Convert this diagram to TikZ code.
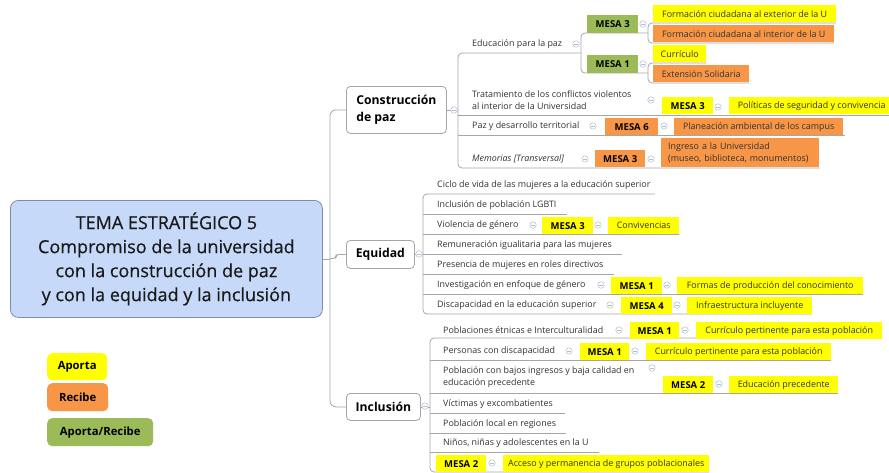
\documentclass[tikz,border=0pt]{standalone}
\usepackage{fontspec}
\setmainfont{Open Sans}
\newfontfamily\ctrfont[FakeBold=0.5]{Open Sans}
\definecolor{apY}{HTML}{FFFF00}
\definecolor{reO}{HTML}{F79646}
\definecolor{arG}{HTML}{9BBB59}
\definecolor{ctrF}{HTML}{C6D9F8}
\definecolor{ctrD}{HTML}{7A8CB0}
\definecolor{brc}{HTML}{A6A6A6}
\definecolor{colc}{HTML}{B0BED0}
\definecolor{txtc}{HTML}{333333}
\tikzset{
  br/.style={draw=brc, line width=0.8pt},
  lbl/.style={anchor=west, inner sep=0, font=\fontsize{8.9}{12}\selectfont, text=txtc, align=left},
  bx/.style={anchor=north west, inner sep=0, minimum height=17, font=\fontsize{8.9}{12}\selectfont, text=txtc},
  bY/.style={bx, fill=apY},
  bO/.style={bx, fill=reO},
  mY/.style={bx, fill=apY, text=black, font=\bfseries\fontsize{9.5}{12}\selectfont},
  mO/.style={bx, fill=reO, text=black, font=\bfseries\fontsize{9.5}{12}\selectfont},
  mG/.style={bx, fill=arG, text=black, font=\bfseries\fontsize{9.5}{12}\selectfont},
  branch/.style={anchor=north west, draw=brc, fill=white, rounded corners=4, line width=0.8pt, inner sep=0, align=left, font=\bfseries\fontsize{12.2}{17}\selectfont, text=black},
  legend/.style={anchor=north west, rounded corners=5, inner sep=0, font=\bfseries\fontsize{11.3}{14}\selectfont, text=black},
  colps/.style={circle, draw=colc, fill=white, minimum size=6.5pt, inner sep=0, line width=0.5pt,
    path picture={\draw[colc, line width=0.5pt] ([xshift=-1.8pt]path picture bounding box.center) -- ([xshift=1.8pt]path picture bounding box.center);}}
}
\begin{document}
\begin{tikzpicture}[x=1pt,y=-1pt]
\useasboundingbox (0,0) rectangle (889,472);
\fill[white] (0,0) rectangle (889,472);

% central node
\node[anchor=north west, draw=ctrD, fill=ctrF, rounded corners=8, line width=0.8pt, minimum width=312, minimum height=117, inner sep=0, align=center, font=\ctrfont\fontsize{18}{24}\selectfont, text=black!90] (ctr) at (10,200)
  {TEMA ESTRATÉGICO 5\\Compromiso de la universidad\\con la construcción de paz\\y con la equidad y la inclusión};

% branches
\node[branch, minimum width=100, minimum height=47] (con) at (346,86) {Construcción\\de paz};
\node[branch, minimum width=68, minimum height=28] (equ) at (346,240) {Equidad};
\node[branch, minimum width=74, minimum height=27] (inc) at (346,393) {Inclusión};

% spine
\draw[br, rounded corners=6] (con.west) -- (con.west -| 330,0) -- (inc.west -| 330,0) -- (inc.west);
\draw[br] (ctr.east) -- (ctr.east -| 330,0);
\draw[br, rounded corners=3] (equ.west) -- (equ.west -| 336,0) -- (336,258.5) -- (330,258.5);

% ---------- Construcción de paz ----------
\draw[br] (con.east) -- (con.east -| 458,0);
\draw[br, rounded corners=4] (581,53) -- (458,53) -- (458,168) -- (820,168);
\draw[br] (458,115) -- (889,115);
\draw[br] (458,135) -- (845,135);
\draw[br, rounded corners=4] (648,33) -- (581,33) -- (581,73) -- (648,73);
\draw[br, rounded corners=4] (836,23) -- (648,23) -- (648,43) -- (834,43);
\draw[br, rounded corners=4] (706,63) -- (648,63) -- (648,83) -- (749,83);

\node[lbl] (edu) at (472,44) {Educación para la paz};
\node[lbl] (tra) at (472,100) {Tratamiento de los conflictos violentos\\al interior de la Universidad};
\node[lbl] (pdt) at (472,126) {Paz y desarrollo territorial};
\node[lbl, font=\itshape\fontsize{8.9}{12}\selectfont] (mem) at (472,159) {Memorias [Transversal]};

\node[mG, minimum width=51, minimum height=18] (m3a) at (587,15) {MESA 3};
\node[mG, minimum width=51, minimum height=18] (m1a) at (587,55) {MESA 1};
\node[bY, minimum width=183] (fext) at (653,5) {Formación ciudadana al exterior de la U};
\node[bO, minimum width=181] (fint) at (653,25) {Formación ciudadana al interior de la U};
\node[bY, minimum width=53] (curr) at (653,45) {Currículo};
\node[bO, minimum width=96] (exts) at (653,65) {Extensión Solidaria};
\node[mY, minimum width=51] (m3b) at (662,97) {MESA 3};
\node[bY, minimum width=165] (pol) at (729,97) {Políticas de seguridad y convivencia};
\node[mO, minimum width=53] (m6) at (605,118) {MESA 6};
\node[bO, minimum width=169] (plan) at (674,118) {Planeación ambiental de los campus};
\node[mO, minimum width=50] (m3c) at (595,150) {MESA 3};
\node[bO, minimum height=29, text width=152, inner xsep=3, align=left, font=\fontsize{8.9}{12}\selectfont] (ingr) at (661,138) {\hspace*{4pt}Ingreso a la Universidad\\\hspace*{4pt}(museo, biblioteca, monumentos)};

% ---------- Equidad ----------
\draw[br] (equ.east) -- (equ.east -| 423,0);
\draw[br, rounded corners=4] (655,194) -- (423,194) -- (423,314) -- (812,314);
\draw[br] (423,214) -- (567,214);
\draw[br] (423,234) -- (679,234);
\draw[br] (423,254) -- (622,254);
\draw[br] (423,274) -- (614,274);
\draw[br] (423,294) -- (863,294);

\node[lbl] (e1) at (437,185) {Ciclo de vida de las mujeres a la educación superior};
\node[lbl] (e2) at (437,205) {Inclusión de población LGBTI};
\node[lbl] (e3) at (437,225) {Violencia de género};
\node[lbl] (e4) at (437,245) {Remuneración igualitaria para las mujeres};
\node[lbl] (e5) at (437,265) {Presencia de mujeres en roles directivos};
\node[lbl] (e6) at (437,285) {Investigación en enfoque de género};
\node[lbl] (e7) at (437,305) {Discapacidad en la educación superior};

\node[mY, minimum width=51] (m3d) at (542,217) {MESA 3};
\node[bY, minimum width=71] (conv) at (608,217) {Convivencias};
\node[mY, minimum width=51] (m1b) at (611,277) {MESA 1};
\node[bY, minimum width=186] (form) at (677,277) {Formas de producción del conocimiento};
\node[mY, minimum width=51] (m4) at (621,297) {MESA 4};
\node[bY, minimum width=125] (infra) at (687,297) {Infraestructura incluyente};

% ---------- Inclusión ----------
\draw[br] (inc.east) -- (inc.east -| 430,0);
\draw[br, rounded corners=4] (882,338) -- (430,338) -- (430,472) -- (709,472);
\draw[br] (430,360) -- (831,360);
\draw[br] (430,393) -- (838,393);
\draw[br] (430,413) -- (565,413);
\draw[br] (430,433) -- (566,433);
\draw[br] (430,452) -- (599,452);

\node[lbl] (i1) at (443,330) {Poblaciones étnicas e Interculturalidad};
\node[lbl] (i2) at (443,351) {Personas con discapacidad};
\node[lbl] (i3) at (443,377.5) {Población con bajos ingresos y baja calidad en\\educación precedente};
\node[lbl] (i4) at (443,404) {Víctimas y excombatientes};
\node[lbl] (i5) at (443,424) {Población local en regiones};
\node[lbl] (i6) at (443,443) {Niños, niñas y adolescentes en la U};

\node[mY, minimum width=49] (m1c) at (630,322) {MESA 1};
\node[bY, minimum width=186] (cur1) at (696,322) {Currículo pertinente para esta población};
\node[mY, minimum width=49] (m1d) at (580,343) {MESA 1};
\node[bY, minimum width=185] (cur2) at (646,343) {Currículo pertinente para esta población};
\node[mY, minimum width=50] (m2a) at (663,376) {MESA 2};
\node[bY, minimum width=109] (edp) at (729,376) {Educación precedente};
\node[mY, minimum width=50] (m2b) at (436,455) {MESA 2};
\node[bY, minimum width=206] (acc) at (503,455) {Acceso y permanencia de grupos poblacionales};

% ---------- collapse markers ----------
\node[colps] (k1) at (454,110) {};
\node[colps] (k2) at (576,44) {};
\node[colps] (k3) at (643,24) {};
\node[colps] (k4) at (643,64) {};
\node[colps] (k5) at (651,100) {};
\node[colps] (k6) at (718,107) {};
\node[colps] (k7) at (593,126) {};
\node[colps] (k8) at (664,126) {};
\node[colps] (k9) at (585,159) {};
\node[colps] (k10) at (651,159) {};
\node[colps] (k11) at (419,254) {};
\node[colps] (k12) at (533,225) {};
\node[colps] (k13) at (598,225) {};
\node[colps] (k14) at (601,285) {};
\node[colps] (k15) at (667,285) {};
\node[colps] (k16) at (610,305) {};
\node[colps] (k17) at (677,305) {};
\node[colps] (k18) at (425,406) {};
\node[colps] (k19) at (619,330) {};
\node[colps] (k20) at (685,330) {};
\node[colps] (k21) at (569,351) {};
\node[colps] (k22) at (635,351) {};
\node[colps] (k23) at (652,368) {};
\node[colps] (k24) at (719,384) {};
\node[colps] (k25) at (492,463) {};

% ---------- legend ----------
\node[legend, fill=apY, minimum width=60, minimum height=27] (lgA) at (47,353) {Aporta};
\node[legend, fill=reO, minimum width=61, minimum height=28] (lgR) at (47,383) {Recibe};
\node[legend, fill=arG, minimum width=106, minimum height=28] (lgG) at (47,418) {Aporta/Recibe};
\end{tikzpicture}
\end{document}
